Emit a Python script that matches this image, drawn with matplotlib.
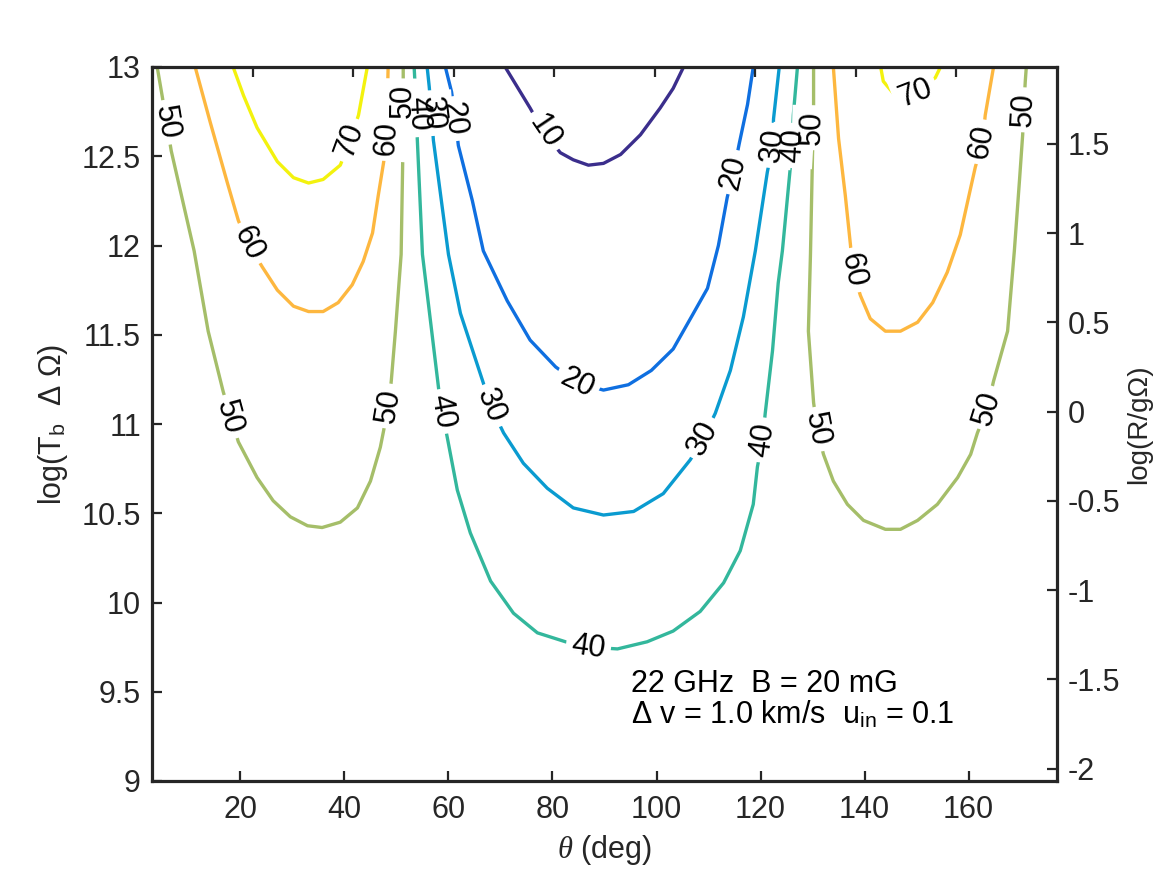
import numpy as np
import matplotlib
matplotlib.use('Agg')
import matplotlib.pyplot as plt
from matplotlib.ticker import FuncFormatter

plt.rcParams['font.family'] = ['Liberation Sans', 'DejaVu Sans']
plt.rcParams['mathtext.fontset'] = 'custom'
plt.rcParams['mathtext.rm'] = 'Liberation Sans'
plt.rcParams['mathtext.it'] = 'Liberation Serif:italic'
plt.rcParams['axes.unicode_minus'] = False

# contour lines: theta (deg), log(Tb dOmega)
c10_theta = [70.9, 75.7, 78.2, 81.5, 84.0, 86.9, 89.8, 93.1, 96.9, 100.7, 103.2, 105.2]
c10_logt = [13.0, 12.77, 12.64, 12.52, 12.48, 12.45, 12.46, 12.51, 12.62, 12.77, 12.88, 13.0]

c20_theta = [59.4, 60.6, 61.3, 61.9, 64.6, 66.7, 69.0, 71.3, 75.7, 80.6, 84.8, 89.8,
             94.6, 99.0, 103.2, 106.9, 109.8, 111.9, 113.6, 114.8, 115.9, 117.5, 118.6]
c20_logt = [13.0, 12.86, 12.71, 12.56, 12.25, 11.97, 11.83, 11.69, 11.47, 11.32, 11.23, 11.19,
            11.22, 11.30, 11.42, 11.61, 11.76, 12.00, 12.27, 12.41, 12.57, 12.79, 13.0]

c30_theta = [55.9, 56.3, 56.7, 57.1, 60.0, 62.3, 66.7, 68.1, 70.6, 74.4, 79.0, 84.0, 89.8,
             95.6, 101.3, 106.5, 109.0, 111.3, 114.2, 116.7, 119.0, 121.3, 122.3, 122.5, 123.6]
c30_logt = [13.0, 12.89, 12.75, 12.59, 11.95, 11.62, 11.23, 11.10, 10.95, 10.78, 10.64, 10.53, 10.49,
            10.51, 10.61, 10.80, 10.92, 11.06, 11.30, 11.60, 11.97, 12.41, 12.56, 12.71, 13.0]

c40_theta = [53.4, 53.6, 54.0, 55.0, 58.1, 58.8, 59.8, 61.7, 64.2, 68.1, 72.5, 77.1, 82.5, 86.9,
             92.5, 98.2, 103.2, 108.4, 112.9, 116.1, 118.6, 119.4, 120.4, 120.9, 122.3, 123.4,
             124.2, 125.7, 126.1, 126.3, 127.1]
c40_logt = [13.0, 12.89, 12.60, 11.95, 11.20, 11.07, 10.92, 10.63, 10.39, 10.12, 9.94, 9.83, 9.78, 9.75,
            9.74, 9.78, 9.84, 9.95, 10.11, 10.29, 10.55, 10.76, 10.91, 11.06, 11.41, 11.79,
            11.97, 12.43, 12.59, 12.73, 13.0]

c50a_theta = [4.0, 5.0, 6.7, 11.1, 13.8, 16.7, 19.6, 23.2, 26.3, 29.6, 32.9, 35.7, 39.2, 42.5,
              45.0, 46.9, 48.4, 49.0, 49.8, 50.9, 51.3, 51.3]
c50a_logt = [13.0, 12.83, 12.53, 11.97, 11.52, 11.18, 10.90, 10.70, 10.57, 10.48, 10.43, 10.42, 10.45, 10.53,
             10.68, 10.87, 11.09, 11.24, 11.52, 11.95, 12.64, 13.0]

c50b_theta = [130.2, 130.2, 130.2, 130.0, 129.6, 129.2, 130.2, 130.9, 132.1, 134.0, 136.7, 139.8, 144.0, 146.9,
              150.2, 154.0, 157.9, 160.4, 161.7, 163.6, 164.8, 167.5, 168.8, 169.8, 170.4, 170.6, 170.9, 171.1]
c50b_logt = [13.0, 12.80, 12.66, 12.52, 11.95, 11.52, 11.12, 10.97, 10.83, 10.68, 10.55, 10.46, 10.41, 10.41,
             10.46, 10.55, 10.70, 10.83, 10.95, 11.09, 11.24, 11.52, 11.97, 12.37, 12.62, 12.76, 12.92, 13.0]

c60a_theta = [11.3, 14.2, 17.5, 19.6, 21.5, 24.2, 27.1, 30.2, 33.1, 35.9, 38.8, 41.5, 43.6, 45.4,
              46.5, 47.5, 48.2, 48.2, 48.4]
c60a_logt = [13.0, 12.69, 12.35, 12.14, 12.01, 11.88, 11.75, 11.66, 11.63, 11.63, 11.68, 11.78, 11.91, 12.07,
             12.28, 12.46, 12.60, 12.75, 13.0]

c60b_theta = [134.0, 135.0, 136.3, 137.3, 137.7, 139.2, 141.1, 144.0, 146.9, 150.2, 153.1, 155.9,
              158.4, 160.0, 161.3, 162.7, 163.2, 164.8]
c60b_logt = [13.0, 12.60, 12.28, 12.00, 11.86, 11.72, 11.59, 11.52, 11.52, 11.57, 11.68, 11.85,
             12.06, 12.27, 12.44, 12.58, 12.73, 13.0]

c70a_theta = [18.6, 20.6, 23.2, 27.1, 30.2, 33.1, 35.9, 39.2, 41.1, 42.7, 44.4]
c70a_logt = [13.0, 12.84, 12.66, 12.47, 12.38, 12.35, 12.37, 12.45, 12.59, 12.73, 13.0]

c70b_theta = [143.1, 143.6, 145.6, 149.8, 153.6, 154.6]
c70b_logt = [13.0, 12.92, 12.85, 12.86, 12.94, 13.0]

# inline label anchors
lab10 = [(78.5, 12.64)]
lab20 = [(61.0, 12.71), (84.8, 11.23), (114.8, 12.41)]
lab30 = [(56.9, 12.74), (68.1, 11.10), (109.0, 10.92), (122.3, 12.56)]
lab40 = [(54.2, 12.74), (58.8, 11.07), (86.9, 9.75), (120.4, 10.91), (126.2, 12.56)]
lab50a = [(5.8, 12.69), (17.9, 11.04), (48.5, 11.10), (51.2, 12.81)]
lab50b = [(130.0, 12.66), (130.9, 10.97), (163.6, 11.09), (170.6, 12.76)]
lab60a = [(21.6, 12.01), (48.1, 12.60)]
lab60b = [(137.7, 11.86), (162.5, 12.58)]
lab70a = [(41.0, 12.59)]
lab70b = [(149.8, 12.85)]

colors = {10: '#3b2e8c', 20: '#0f6fe0', 30: '#0a9bd0', 40: '#33b79c',
          50: '#a5be69', 60: '#fdb73f', 70: '#f3f20e'}

lines = [
    (10, c10_theta, c10_logt, lab10),
    (20, c20_theta, c20_logt, lab20),
    (30, c30_theta, c30_logt, lab30),
    (40, c40_theta, c40_logt, lab40),
    (50, c50a_theta, c50a_logt, lab50a),
    (50, c50b_theta, c50b_logt, lab50b),
    (60, c60a_theta, c60a_logt, lab60a),
    (60, c60b_theta, c60b_logt, lab60b),
    (70, c70a_theta, c70a_logt, lab70a),
    (70, c70b_theta, c70b_logt, lab70b),
]

axcol = '#262626'
fs = 22

fig = plt.figure(figsize=(11.67, 8.75), dpi=100)
pos = [152/1167, 1 - 781/875, 905/1167, 714/875]
ax = fig.add_axes(pos)
ax.set_xlim(3, 177)
ax.set_ylim(9, 13)


def label_angle(xs, ys, x0, y0):
    pts = ax.transData.transform(np.column_stack([xs, ys]))
    p0 = ax.transData.transform((x0, y0))
    i = int(np.argmin(np.hypot(pts[:, 0] - p0[0], pts[:, 1] - p0[1])))
    a = pts[max(i - 1, 0)]
    b = pts[min(i + 1, len(pts) - 1)]
    ang = np.degrees(np.arctan2(b[1] - a[1], b[0] - a[0]))
    if ang > 90:
        ang -= 180
    elif ang <= -90:
        ang += 180
    return ang


for lev, th, lt, labs in lines:
    ax.plot(th, lt, color=colors[lev], lw=2.4, solid_capstyle='butt', solid_joinstyle='round', zorder=2)
    for (x0, y0) in labs:
        ang = label_angle(th, lt, x0, y0)
        # white gap first, then the digits, so clustered labels stay visible
        ax.text(x0, y0, str(lev), rotation=ang, rotation_mode='anchor', ha='center', va='center',
                fontsize=fs, color='none', zorder=3,
                bbox=dict(boxstyle='square,pad=0.18', fc='white', ec='none'))
        ax.text(x0, y0, str(lev), rotation=ang, rotation_mode='anchor', ha='center', va='center',
                fontsize=fs, color='black', zorder=4)

ax.text(95.0, 9.50, '22 GHz  B = 20 mG', fontsize=fs, va='baseline', ha='left', zorder=5)
ax.text(95.0, 9.32, u'\u0394 v = 1.0 km/s  u$_{\\rm in}$ = 0.1', fontsize=fs, va='baseline', ha='left', zorder=5)

fmt = FuncFormatter(lambda v, p: '%g' % v)
ax.set_xticks(np.arange(20, 161, 20))
ax.set_yticks(np.arange(9, 13.01, 0.5))
ax.yaxis.set_major_formatter(fmt)
ax.tick_params(direction='in', length=7, width=1.6, colors=axcol, labelsize=fs,
               top=False, right=False)
ax.tick_params(axis='x', pad=10)
ax.tick_params(axis='y', pad=8)
ax.spines['top'].set_visible(False)
ax.spines['right'].set_visible(False)
for s in ['left', 'bottom']:
    ax.spines[s].set_linewidth(2.3)
    ax.spines[s].set_color(axcol)
    ax.spines[s].set_zorder(6)
ax.set_xlabel(r'$\theta$ (deg)', fontsize=fs, color=axcol, labelpad=6)
ax.set_ylabel(r'log(T$_{\rm b}$  $\Delta$ $\mathit{\Omega}$)', fontsize=fs, color=axcol, labelpad=8)

# second axes for the right scale and the top ticks
ax2 = fig.add_axes(pos, facecolor='none')
ax2.set_xlim(0, 180)
ax2.set_ylim(9 - 11.07, 13 - 11.07)
ax2.set_xticks(np.arange(20, 161, 20))
ax2.set_yticks(np.arange(-2, 1.51, 0.5))
ax2.yaxis.set_major_formatter(fmt)
ax2.xaxis.tick_top()
ax2.yaxis.tick_right()
ax2.yaxis.set_label_position('right')
ax2.tick_params(direction='in', length=7, width=1.6, colors=axcol, labelsize=fs, pad=8)
ax2.tick_params(axis='x', labeltop=False)
ax2.spines['left'].set_visible(False)
ax2.spines['bottom'].set_visible(False)
for s in ['top', 'right']:
    ax2.spines[s].set_linewidth(2.3)
    ax2.spines[s].set_color(axcol)
ax2.set_ylabel(u'log(R/g\u03a9)', fontsize=20, color=axcol, labelpad=4)

fig.savefig('out.png', dpi=100)
